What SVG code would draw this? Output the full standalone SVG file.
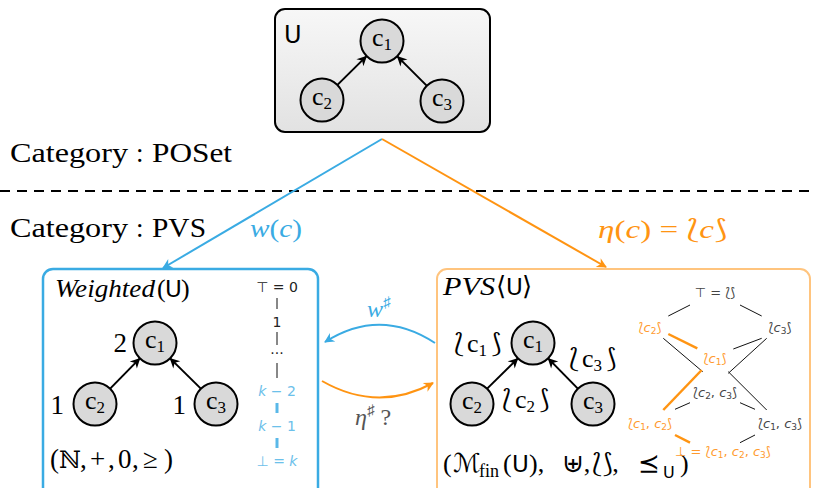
<svg xmlns="http://www.w3.org/2000/svg" width="815" height="488" viewBox="0 0 815 488">
<style>
.serif{font-family:'Liberation Serif','DejaVu Serif','DejaVu Sans',serif;}
.sans{font-family:'DejaVu Sans','Liberation Sans',sans-serif;}
.it{font-style:italic;}
.node{font-family:'Liberation Serif','DejaVu Serif',serif;font-size:26px;text-anchor:middle;fill:#000;}
.circ{fill:#d9d9d9;stroke:#000;stroke-width:2;}
.edge{stroke:#000;stroke-width:2;fill:none;marker-end:url(#ak);}
.lat{font-family:'DejaVu Sans','Liberation Sans',sans-serif;font-size:13px;text-anchor:middle;}
.lg{fill:#444;}
.lo{fill:#ff9a2e;}
.thin{stroke:#111;stroke-width:1;}
.thick{stroke:#ff9412;stroke-width:2.5;}
</style>
<defs>
<linearGradient id="gU" x1="0" y1="0" x2="0" y2="1">
<stop offset="0" stop-color="#f7f7f7"/>
<stop offset="1" stop-color="#e2e2e2"/>
</linearGradient>
<marker id="ak" viewBox="-11 -6 13 12" refX="0" refY="0" markerWidth="13" markerHeight="12" orient="auto" markerUnits="userSpaceOnUse">
<path d="M1,0 L-9,-5 L-6,0 L-9,5 Z" fill="#000"/>
</marker>
<marker id="ab" viewBox="-11 -6 13 12" refX="0" refY="0" markerWidth="13" markerHeight="12" orient="auto" markerUnits="userSpaceOnUse">
<path d="M1,0 L-9,-5 L-6,0 L-9,5 Z" fill="#3aabe3"/>
</marker>
<marker id="ao" viewBox="-11 -6 13 12" refX="0" refY="0" markerWidth="13" markerHeight="12" orient="auto" markerUnits="userSpaceOnUse">
<path d="M1,0 L-9,-5 L-6,0 L-9,5 Z" fill="#ff9412"/>
</marker>
</defs>

<!-- category labels -->
<g class="serif" font-size="27">
<text x="10" y="162" textLength="118" lengthAdjust="spacingAndGlyphs">Category</text>
<text x="136" y="162">:</text>
<text x="152" y="162" textLength="80" lengthAdjust="spacingAndGlyphs">POSet</text>
<text x="10" y="237" textLength="118" lengthAdjust="spacingAndGlyphs">Category</text>
<text x="136" y="237">:</text>
<text x="152" y="237" textLength="54" lengthAdjust="spacingAndGlyphs">PVS</text>
</g>
<line x1="0" y1="191" x2="815" y2="191" stroke="#000" stroke-width="2" stroke-dasharray="10 7"/>

<!-- top node U -->
<g id="U">
<rect x="275" y="9" width="215" height="123" rx="10" fill="url(#gU)" stroke="#000" stroke-width="2"/>
<text class="sans" x="284" y="43" font-size="24">U</text>
<circle class="circ" cx="382" cy="41" r="21.5"/>
<text class="node" x="382" y="46">c<tspan font-size="17" dy="4">1</tspan></text>
<circle class="circ" cx="322" cy="100" r="21.5"/>
<text class="node" x="322" y="105">c<tspan font-size="17" dy="4">2</tspan></text>
<circle class="circ" cx="442" cy="101" r="21.5"/>
<text class="node" x="442" y="106">c<tspan font-size="17" dy="4">3</tspan></text>
<line class="edge" x1="337.7" y1="84.6" x2="366.3" y2="56.4"/>
<line class="edge" x1="426.4" y1="85.4" x2="397.6" y2="56.6"/>
</g>

<!-- Weighted box -->
<g id="Weighted">
<rect x="43" y="269" width="275" height="240" rx="10" fill="#fff" stroke="#3aabe3" stroke-width="2.5"/>
<text class="serif it" x="55" y="297" font-size="26" textLength="100" lengthAdjust="spacingAndGlyphs">Weighted</text>
<text class="serif" x="157" y="297" font-size="26">(</text>
<text class="sans" x="165" y="297" font-size="23">U</text>
<text class="serif" x="181" y="297" font-size="26">)</text>
<circle class="circ" cx="155" cy="343" r="21.5"/>
<text class="node" x="155" y="348">c<tspan font-size="17" dy="4">1</tspan></text>
<circle class="circ" cx="95" cy="404" r="21.5"/>
<text class="node" x="95" y="409">c<tspan font-size="17" dy="4">2</tspan></text>
<circle class="circ" cx="216" cy="404" r="21.5"/>
<text class="node" x="216" y="409">c<tspan font-size="17" dy="4">3</tspan></text>
<line class="edge" x1="110.4" y1="388.4" x2="139.6" y2="358.6"/>
<line class="edge" x1="200.6" y1="388.4" x2="170.4" y2="358.6"/>
<text class="serif" x="127" y="352" font-size="27" text-anchor="end">2</text>
<text class="serif" x="64" y="414" font-size="27" text-anchor="end">1</text>
<text class="serif" x="186" y="414" font-size="27" text-anchor="end">1</text>
<text class="serif" y="468" font-size="27"><tspan x="50">(</tspan><tspan x="59" font-size="24">ℕ</tspan><tspan x="80">,</tspan><tspan x="90">+</tspan><tspan x="108">,</tspan><tspan x="118">0</tspan><tspan x="132">,</tspan><tspan x="143">≥</tspan><tspan x="164">)</tspan></text>
<!-- chain -->
<g class="sans" font-size="14" text-anchor="middle">
<text x="277" y="292" fill="#222">⊤ = 0</text>
<text x="277" y="327" fill="#222">1</text>
<text x="277" y="358" fill="#222">···</text>
<text x="277" y="396" fill="#6cc0ea"><tspan class="it">k</tspan> − 2</text>
<text x="277" y="431" fill="#6cc0ea"><tspan class="it">k</tspan> − 1</text>
<text x="277" y="466" fill="#6cc0ea">⊥ = <tspan class="it">k</tspan></text>
</g>
<line x1="277" y1="298" x2="277" y2="309" stroke="#111" stroke-width="1"/>
<line x1="277" y1="332" x2="277" y2="345" stroke="#111" stroke-width="1"/>
<line x1="277" y1="363" x2="277" y2="378" stroke="#111" stroke-width="1"/>
<line x1="277" y1="403" x2="277" y2="413" stroke="#5ab8e8" stroke-width="3"/>
<line x1="277" y1="438" x2="277" y2="448" stroke="#5ab8e8" stroke-width="3"/>
</g>

<!-- PVS box -->
<g id="PVS">
<rect x="437" y="269" width="373" height="240" rx="10" fill="#fff" stroke="#ffc47e" stroke-width="2"/>
<text class="serif it" x="443" y="295" font-size="26" textLength="52" lengthAdjust="spacingAndGlyphs">PVS</text>
<text class="serif" x="496" y="295" font-size="26">⟨</text>
<text class="sans" x="506" y="295" font-size="23">U</text>
<text class="serif" x="522" y="295" font-size="26">⟩</text>
<circle class="circ" cx="533" cy="343" r="21.5"/>
<text class="node" x="533" y="348">c<tspan font-size="17" dy="4">1</tspan></text>
<circle class="circ" cx="472" cy="404" r="21.5"/>
<text class="node" x="472" y="409">c<tspan font-size="17" dy="4">2</tspan></text>
<circle class="circ" cx="593" cy="404" r="21.5"/>
<text class="node" x="593" y="409">c<tspan font-size="17" dy="4">3</tspan></text>
<line class="edge" x1="487.4" y1="388.4" x2="517.6" y2="358.6"/>
<line class="edge" x1="577.6" y1="388.4" x2="548.4" y2="358.6"/>
<text class="serif" y="352" font-size="26"><tspan x="454">⟅</tspan><tspan x="467">c</tspan><tspan font-size="17" dy="4">1</tspan><tspan x="491" dy="-4">⟆</tspan></text>
<text class="serif" y="367" font-size="26"><tspan x="569">⟅</tspan><tspan x="582">c</tspan><tspan font-size="17" dy="4">3</tspan><tspan x="606" dy="-4">⟆</tspan></text>
<text class="serif" y="408" font-size="26"><tspan x="502">⟅</tspan><tspan x="515">c</tspan><tspan font-size="17" dy="4">2</tspan><tspan x="539" dy="-4">⟆</tspan></text>
<text class="serif" y="472" font-size="26"><tspan x="443">(</tspan><tspan x="453" class="it">ℳ</tspan><tspan x="479" font-size="18" dy="5">fin</tspan><tspan x="503" dy="-5">(</tspan><tspan x="512" class="sans" font-size="23">U</tspan><tspan x="529">),</tspan><tspan x="562">⊎,</tspan><tspan x="592">⟅⟆,</tspan><tspan x="638">⪯</tspan><tspan x="663" class="sans" font-size="16" dy="6">U</tspan><tspan x="680" dy="-6">)</tspan></text>
<!-- lattice -->
<line class="thin" x1="690" y1="305" x2="668.3" y2="316"/>
<line class="thin" x1="740" y1="305" x2="761.7" y2="316"/>
<line class="thin" x1="663.3" y1="338.3" x2="702.7" y2="371.7"/>
<line class="thin" x1="761.7" y1="338.3" x2="733.3" y2="349"/>
<line class="thin" x1="766.7" y1="338.3" x2="728.3" y2="373.3"/>
<line class="thin" x1="728.3" y1="371.7" x2="766.7" y2="410"/>
<line class="thin" x1="690" y1="402.7" x2="675" y2="409.3"/>
<line class="thin" x1="740" y1="402.7" x2="755" y2="409.3"/>
<line class="thin" x1="755" y1="435" x2="740" y2="442.7"/>
<line class="thick" x1="668.3" y1="334" x2="697.3" y2="348.3"/>
<line class="thick" x1="701.7" y1="370" x2="663.3" y2="410"/>
<line class="thick" x1="675" y1="435" x2="690" y2="442.7"/>
<text class="lat lg" x="715" y="297">⊤ = ⟅⟆</text>
<text class="lat lo" x="650" y="332">⟅<tspan class="it">c</tspan><tspan font-size="9" dy="2">2</tspan><tspan dy="-2">⟆</tspan></text>
<text class="lat lg" x="780" y="332">⟅<tspan class="it">c</tspan><tspan font-size="9" dy="2">3</tspan><tspan dy="-2">⟆</tspan></text>
<text class="lat lo" x="715" y="363">⟅<tspan class="it">c</tspan><tspan font-size="9" dy="2">1</tspan><tspan dy="-2">⟆</tspan></text>
<text class="lat lg" x="715" y="397">⟅<tspan class="it">c</tspan><tspan font-size="9" dy="2">2</tspan><tspan dy="-2">, </tspan><tspan class="it">c</tspan><tspan font-size="9" dy="2">3</tspan><tspan dy="-2">⟆</tspan></text>
<text class="lat lo" x="650" y="428">⟅<tspan class="it">c</tspan><tspan font-size="9" dy="2">1</tspan><tspan dy="-2">, </tspan><tspan class="it">c</tspan><tspan font-size="9" dy="2">2</tspan><tspan dy="-2">⟆</tspan></text>
<text class="lat lg" x="780" y="428">⟅<tspan class="it">c</tspan><tspan font-size="9" dy="2">1</tspan><tspan dy="-2">, </tspan><tspan class="it">c</tspan><tspan font-size="9" dy="2">3</tspan><tspan dy="-2">⟆</tspan></text>
<text class="lat lo" x="723" y="456">⊥ = ⟅<tspan class="it">c</tspan><tspan font-size="9" dy="2">1</tspan><tspan dy="-2">, </tspan><tspan class="it">c</tspan><tspan font-size="9" dy="2">2</tspan><tspan dy="-2">, </tspan><tspan class="it">c</tspan><tspan font-size="9" dy="2">3</tspan><tspan dy="-2">⟆</tspan></text>
</g>

<!-- connectors -->
<g id="connectors" fill="none">
<line x1="382" y1="139" x2="163" y2="268" stroke="#3aabe3" stroke-width="2" marker-end="url(#ab)"/>
<line x1="382" y1="139" x2="606" y2="267" stroke="#ff9412" stroke-width="2" marker-end="url(#ao)"/>
<path d="M435,343 Q380,307 325,342" stroke="#3aabe3" stroke-width="2" marker-end="url(#ab)"/>
<path d="M322,381 Q378,413 433,383" stroke="#ff9412" stroke-width="2" marker-end="url(#ao)"/>
</g>
<g id="labels">
<text class="serif" x="250" y="237" font-size="26" fill="#3aabe3" textLength="52" lengthAdjust="spacingAndGlyphs"><tspan class="it">w</tspan>(<tspan class="it">c</tspan>)</text>
<text class="serif" x="598" y="238" font-size="26" fill="#ff9412" textLength="129" lengthAdjust="spacingAndGlyphs"><tspan class="it">η</tspan>(<tspan class="it">c</tspan>) = ⟅<tspan class="it">c</tspan>⟆</text>
<text class="serif" x="367" y="317" font-size="24" fill="#3aabe3"><tspan class="it">w</tspan><tspan font-size="15" dy="-10">♯</tspan></text>
<text class="serif" x="355" y="425" font-size="24" fill="#555"><tspan class="it">η</tspan><tspan font-size="15" dy="-10">♯</tspan><tspan dy="10"> ?</tspan></text>
</g>
</svg>
